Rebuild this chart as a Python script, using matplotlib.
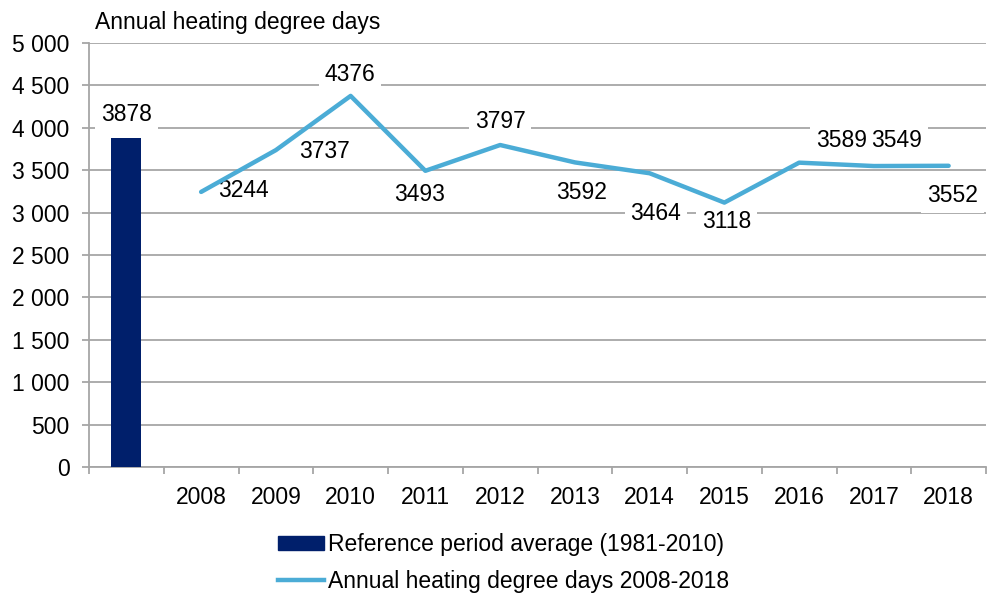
import matplotlib
matplotlib.use("Agg")
import matplotlib.pyplot as plt
from matplotlib.patches import Patch
from matplotlib.lines import Line2D

plt.rcParams['font.family'] = ['Liberation Sans', 'DejaVu Sans']

categories = ["", "2008", "2009", "2010", "2011", "2012", "2013", "2014", "2015", "2016", "2017", "2018"]
reference_avg = 3878
years = ["2008", "2009", "2010", "2011", "2012", "2013", "2014", "2015", "2016", "2017", "2018"]
hdd = [3244, 3737, 4376, 3493, 3797, 3592, 3464, 3118, 3589, 3549, 3552]
yticks = [0, 500, 1000, 1500, 2000, 2500, 3000, 3500, 4000, 4500, 5000]
ytick_labels = ["0", "500", "1 000", "1 500", "2 000", "2 500", "3 000", "3 500", "4 000", "4 500", "5 000"]

# label offsets in pixels (dx, dy) — layout only
line_offsets = [(42, 1), (49, -1), (-1, 21), (-6, -24), (0, 24), (7, -30),
                (6, -40), (2, -19), (42, 22), (23, 26), (4, -30)]

BAR_C = "#001f6b"
LINE_C = "#4bacd6"
GRID_C = "#a6a6a6"
FS = 16.5

fig = plt.figure(figsize=(9.88, 5.93), dpi=100)
ax = fig.add_axes([89/988, 1-467/593, (986-89)/988, (467-43)/593])

ax.set_xlim(-0.5, len(categories) - 0.5)
ax.set_ylim(0, 5000)

ax.bar([0], [reference_avg], width=0.4, color=BAR_C, zorder=3)
xs = [categories.index(y) for y in years]
ax.plot(xs, hdd, color=LINE_C, lw=3.2, zorder=6, solid_capstyle='round')

bb = dict(boxstyle="square,pad=0.25", fc="white", ec="none")
ax.annotate(str(reference_avg), (0, reference_avg), xytext=(0, 24), textcoords="offset pixels",
            ha="center", va="center", fontsize=FS, bbox=bb, zorder=5)
for x, v, (dx, dy) in zip(xs, hdd, line_offsets):
    ax.annotate(str(v), (x, v), xytext=(dx, dy), textcoords="offset pixels",
                ha="center", va="center", fontsize=FS, bbox=bb, zorder=5)

ax.set_yticks(yticks)
ax.set_yticklabels(ytick_labels, fontsize=FS)
ax.yaxis.grid(True, color=GRID_C, lw=1.3, zorder=0)
ax.set_axisbelow(True)
ax.tick_params(axis='y', length=5, color=GRID_C, width=1.3, pad=9)

ax.set_xticks(range(len(categories)))
ax.set_xticklabels(categories, fontsize=FS)
ax.tick_params(axis='x', length=0, pad=14)
ax.set_xticks([i - 0.5 for i in range(len(categories) + 1)], minor=True)
ax.tick_params(axis='x', which='minor', length=5, color=GRID_C, width=1.3)

for s in ["top", "right"]:
    ax.spines[s].set_visible(False)
for s in ["left", "bottom"]:
    ax.spines[s].set_color(GRID_C)
    ax.spines[s].set_linewidth(1.3)

fig.text(95/988, 1-22/593, "Annual heating degree days", fontsize=FS, va="center", ha="left")

handles = [Patch(color=BAR_C), Line2D([0], [0], color=LINE_C, lw=3.2)]
labels = ["Reference period average (1981-2010)", "Annual heating degree days 2008-2018"]
leg = fig.legend(handles, labels, loc="center left", bbox_to_anchor=(278/988, 1-563/593),
                 frameon=False, fontsize=FS, handlelength=2.0, handletextpad=0.2,
                 handleheight=0.55, labelspacing=0.6, borderaxespad=0, borderpad=0)

fig.savefig("out.png", dpi=100)
